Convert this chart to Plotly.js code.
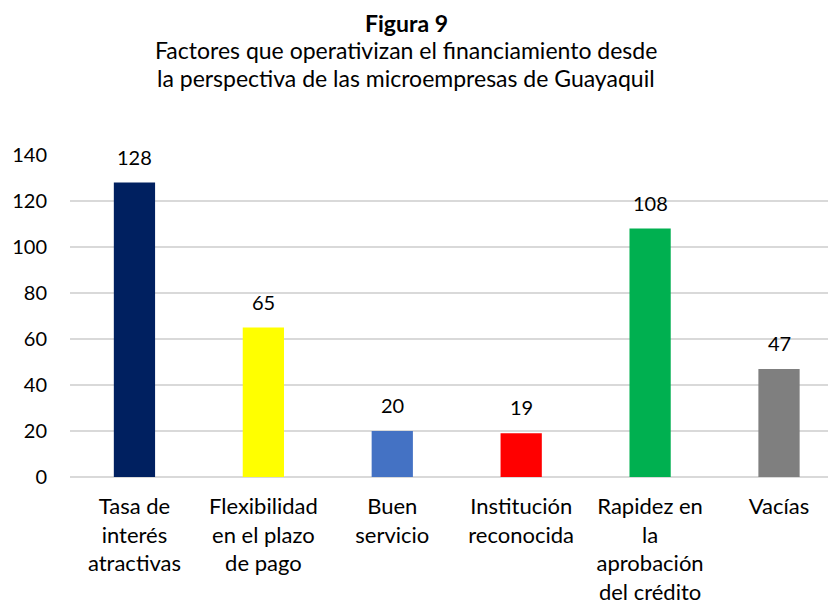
<!DOCTYPE html>
<html>
<head>
<meta charset="utf-8">
<script src="https://cdn.plot.ly/plotly-3.0.1.min.js"></script>
<style>html,body{margin:0;padding:0;background:#fff;}#chart{width:828px;height:604px;}</style>
</head>
<body>
<div id="chart"></div>
<script>
const categories = [
  "Tasa de<br>interés<br>atractivas",
  "Flexibilidad<br>en el plazo<br>de pago",
  "Buen<br>servicio",
  "Institución<br>reconocida",
  "Rapidez en<br>la<br>aprobación<br>del crédito",
  "Vacías"
];
const values = [128, 65, 20, 19, 108, 47];
const barColors = ["#002060", "#FFFF00", "#4472C4", "#FF0000", "#00B050", "#7F7F7F"];
const yTicks = [0, 20, 40, 60, 80, 100, 120, 140];
const titleLines = [
  "<b>Figura 9</b>",
  "Factores que operativizan el financiamiento desde",
  "la perspectiva de las microempresas de Guayaquil"
];

const FONT = "Lato, 'Open Sans', sans-serif";

const trace = {
  type: "bar",
  x: categories,
  y: values,
  marker: {color: barColors},
  hoverinfo: "none"
};

const annotations = values.map((v, i) => ({
  x: categories[i],
  y: v,
  xref: "x",
  yref: "y",
  text: String(v),
  showarrow: false,
  yanchor: "bottom",
  yshift: 12,
  font: {family: FONT, size: 20, color: "#000"}
}));

// title lines as annotations (plot area: top 155px, height 322px)
const titleCenters = [23, 50, 78];
titleLines.forEach((t, i) => {
  annotations.push({
    xref: "paper",
    yref: "paper",
    x: (406 - 70) / 758,
    y: (477 - titleCenters[i]) / 322,
    xanchor: "center",
    yanchor: "middle",
    showarrow: false,
    text: t,
    font: {family: FONT, size: 23, color: "#000"}
  });
});

const layout = {
  width: 828,
  height: 604,
  margin: {l: 70, r: 0, t: 155, b: 127},
  paper_bgcolor: "#fff",
  plot_bgcolor: "#fff",
  showlegend: false,
  bargap: 0.68,
  xaxis: {
    type: "category",
    range: [-0.5, 5.38],
    showgrid: false,
    showline: false,
    zeroline: false,
    ticks: "",
    tickfont: {family: FONT, size: 22, color: "#000"},
    ticklabelstandoff: 14,
    fixedrange: true
  },
  yaxis: {
    range: [0, 140],
    tickvals: yTicks,
    ticktext: yTicks.map(String),
    showgrid: true,
    gridcolor: "#D9D9D9",
    gridwidth: 1.5,
    zeroline: true,
    zerolinecolor: "#D9D9D9",
    zerolinewidth: 1.5,
    showline: false,
    ticks: "",
    ticklabelstandoff: 22,
    tickfont: {family: FONT, size: 20, color: "#000"},
    fixedrange: true
  },
  annotations: annotations
};

Plotly.newPlot("chart", [trace], layout, {displayModeBar: false, staticPlot: true});
</script>
</body>
</html>
